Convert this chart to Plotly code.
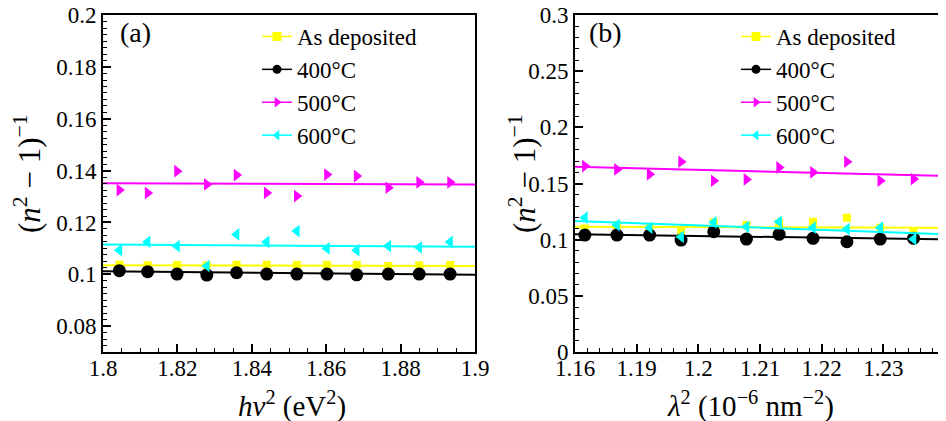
import plotly.graph_objects as go

# ---------------- data: panel (a) ----------------
a_x = [1.8044, 1.8120, 1.8199, 1.8279, 1.8359, 1.8440, 1.8521, 1.8602, 1.8682, 1.8767, 1.8850, 1.8933]
a_asdep = [0.1037, 0.1035, 0.1036, 0.1034, 0.1037, 0.1037, 0.1036, 0.1037, 0.1037, 0.1032, 0.1034, 0.1036]
a_400 = [0.1014, 0.1010, 0.1001, 0.0997, 0.1006, 0.1001, 0.1001, 0.1001, 0.0998, 0.1001, 0.1001, 0.1001]
a_500 = [0.1325, 0.1314, 0.1398, 0.1347, 0.1383, 0.1314, 0.1302, 0.1385, 0.1379, 0.1334, 0.1355, 0.1355]
a_600 = [0.1093, 0.1125, 0.1109, 0.1032, 0.1154, 0.1125, 0.1167, 0.1100, 0.1093, 0.1109, 0.1104, 0.1125]
a_fit_x = [1.8, 1.9]
a_fit_asdep = [0.1035, 0.1032]
a_fit_400 = [0.1012, 0.0998]
a_fit_500 = [0.1351, 0.1347]
a_fit_600 = [0.1115, 0.1106]

# ---------------- data: panel (b) ----------------
b_x = [1.1816, 1.1868, 1.1921, 1.1972, 1.2025, 1.2078, 1.2131, 1.2186, 1.2241, 1.2295, 1.2349]
b_asdep = [0.1101, 0.1130, 0.1115, 0.1077, 0.1155, 0.1130, 0.1146, 0.1160, 0.1196, 0.1107, 0.1071]
b_400 = [0.1041, 0.1041, 0.1041, 0.0997, 0.1071, 0.1006, 0.1048, 0.1012, 0.0982, 0.1006, 0.1012]
b_500 = [0.1656, 0.1626, 0.1582, 0.1694, 0.1525, 0.1537, 0.1644, 0.1600, 0.1694, 0.1525, 0.1540]
b_600 = [0.1196, 0.1130, 0.1107, 0.1026, 0.1155, 0.1115, 0.1160, 0.1107, 0.1095, 0.1107, 0.1006]
b_fit_x = [1.18, 1.24]
b_fit_asdep = [0.1115, 0.1107]
b_fit_400 = [0.1048, 0.1003]
b_fit_500 = [0.1650, 0.1567]
b_fit_600 = [0.1166, 0.1048]

series_names = ["As deposited", "400°C", "500°C", "600°C"]
colors = ["#FFFF00", "#000000", "#FF00FF", "#00FFFF"]
symbols = ["square", "circle", "triangle-right", "triangle-left"]
msizes = [8, 13, 11, 11]

a_y_ticks = [0.08, 0.1, 0.12, 0.14, 0.16, 0.18, 0.2]
b_y_ticks = [0, 0.05, 0.1, 0.15, 0.2, 0.25, 0.3]
b_x_tickvals = [1.18, 1.19, 1.20, 1.21, 1.22, 1.23]
b_x_ticktext = ["1.16", "1.19", "1.2", "1.21", "1.22", "1.23"]

FONT = "Liberation Serif, Times New Roman, serif"

# the page body has an 8px margin: figure is drawn 8px in from top-left
OFF = 8
W, H = 946 - OFF, 421 - OFF


def px(x):
    return (x - OFF) / W


def py(y):
    return 1 - (y - OFF) / H


fig = go.Figure()

panels = [
    ("x", "y", "legend", a_x, [a_asdep, a_400, a_500, a_600], a_fit_x,
     [a_fit_asdep, a_fit_400, a_fit_500, a_fit_600]),
    ("x2", "y2", "legend2", b_x, [b_asdep, b_400, b_500, b_600], b_fit_x,
     [b_fit_asdep, b_fit_400, b_fit_500, b_fit_600]),
]

for xa, ya, leg, xs, ys_list, fx, fits in panels:
    for i in range(4):
        fig.add_trace(go.Scatter(x=fx, y=fits[i], mode="lines", xaxis=xa, yaxis=ya,
                                 line=dict(color=colors[i], width=2), showlegend=False,
                                 hoverinfo="skip"))
        fig.add_trace(go.Scatter(x=xs, y=ys_list[i], mode="markers", xaxis=xa, yaxis=ya,
                                 marker=dict(symbol=symbols[i], color=colors[i], size=msizes[i],
                                             line=dict(width=0)),
                                 showlegend=False))
    for i in range(4):
        fig.add_trace(go.Scatter(x=[None], y=[None], mode="lines+markers", xaxis=xa, yaxis=ya,
                                 name=series_names[i], legend=leg,
                                 line=dict(color=colors[i], width=1.5),
                                 marker=dict(symbol=symbols[i], color=colors[i], size=9)))

axis_common = dict(showline=True, linecolor="black", linewidth=2, mirror=True,
                   ticks="inside", ticklen=8, tickwidth=1.5, tickcolor="black",
                   showgrid=False, zeroline=False, automargin=False,
                   ticklabeloverflow="allow",
                   tickfont=dict(family=FONT, size=23, color="black"))
minor_common = dict(ticks="inside", ticklen=4, tickcolor="black", tickwidth=1.2)

fig.update_layout(
    width=W, height=H,
    margin=dict(l=0, r=0, t=0, b=0, autoexpand=False),
    paper_bgcolor="white", plot_bgcolor="white",
    font=dict(family=FONT, color="black"),
    xaxis=dict(domain=[px(103), px(475)], range=[1.8, 1.9], dtick=0.02, tick0=1.8,
               minor=dict(dtick=0.005, tick0=1.8, **minor_common),
               ticklabelstandoff=-6, anchor="y", **axis_common),
    yaxis=dict(domain=[py(352), py(15)], range=[0.07, 0.2001],
               tickvals=a_y_ticks,
               minor=dict(dtick=0.0025, tick0=0.07, **minor_common),
               anchor="x", **axis_common),
    xaxis2=dict(domain=[px(575), px(945)], range=[1.18, 1.24],
                tickvals=b_x_tickvals, ticktext=b_x_ticktext,
                minor=dict(dtick=0.002, tick0=1.18, **minor_common),
                ticklabelstandoff=-6, anchor="y2", **axis_common),
    yaxis2=dict(domain=[py(352), py(15)], range=[0, 0.3001], tickvals=b_y_ticks,
                minor=dict(dtick=0.01, tick0=0, **minor_common),
                anchor="x2", **axis_common),
    legend=dict(x=px(257), y=py(15), xanchor="left", yanchor="top",
                bgcolor="rgba(0,0,0,0)", font=dict(family=FONT, size=23, color="black"),
                itemwidth=30),
    legend2=dict(x=px(736), y=py(15), xanchor="left", yanchor="top",
                 bgcolor="rgba(0,0,0,0)", font=dict(family=FONT, size=23, color="black"),
                 itemwidth=30),
)

ann = [
    dict(text="(a)", x=px(135), y=py(33), size=28),
    dict(text="(b)", x=px(605), y=py(33), size=28),
    dict(text="<i>hν</i><sup>2</sup> (eV<sup>2</sup>)", x=px(292), y=py(404), size=29),
    dict(text="<i>λ</i><sup>2</sup> (10<sup>−6</sup> nm<sup>−2</sup>)", x=px(750), y=py(404), size=29),
]
for a in ann:
    s = a.pop("size")
    fig.add_annotation(xref="paper", yref="paper", xanchor="center", yanchor="middle",
                       showarrow=False, font=dict(family=FONT, size=s, color="black"), **a)

for xc in [27, 522]:
    fig.add_annotation(xref="paper", yref="paper", x=px(xc), y=py(174),
                       xanchor="center", yanchor="middle", showarrow=False, textangle=-90,
                       text="(<i>n</i><sup>2</sup> − 1)<sup>−1</sup>",
                       font=dict(family=FONT, size=31, color="black"))

fig.write_html("out.html")
